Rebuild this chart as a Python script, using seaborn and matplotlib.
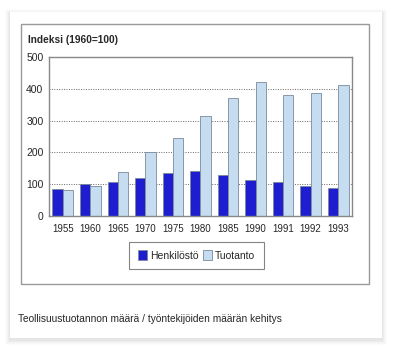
import pandas as pd
import matplotlib.pyplot as plt
import seaborn as sns
from matplotlib.patches import Rectangle
from matplotlib.ticker import MultipleLocator

years = ['1955', '1960', '1965', '1970', '1975', '1980', '1985', '1990', '1991', '1992', '1993']
henkilosto = [85, 100, 106, 120, 136, 141, 130, 112, 106, 94, 88]
tuotanto = [81, 95, 138, 200, 244, 315, 370, 420, 380, 386, 411]

df = pd.DataFrame({
    'Vuosi': years * 2,
    'Indeksi': henkilosto + tuotanto,
    'Sarja': ['Henkilöstö'] * len(years) + ['Tuotanto'] * len(years),
})

sns.set_style('white')
plt.rcParams['font.family'] = ['Liberation Sans', 'DejaVu Sans']

fig = plt.figure(figsize=(4, 3.54), dpi=100)
W, H = 400, 354

# card with a soft shadow, and the chart frame inside it
for o, a in [(5, 0.012), (4, 0.015), (3, 0.02), (2, 0.025), (1, 0.03)]:
    fig.patches.append(Rectangle(((10 - o) / W, 1 - (339 + o + 1) / H), (372 + 2 * o) / W, (326 + 2 * o) / H,
                                 transform=fig.transFigure, facecolor='black', alpha=a, edgecolor='none', zorder=0))
fig.patches.append(Rectangle((10 / W, 1 - 338 / H), 372 / W, 326 / H, transform=fig.transFigure,
                             facecolor='white', edgecolor='none', zorder=1))
fig.patches.append(Rectangle((21 / W, 1 - 284 / H), 348 / W, 260 / H, transform=fig.transFigure,
                             facecolor='white', edgecolor='#999999', linewidth=1, zorder=2))

ax = fig.add_axes([49 / W, 1 - 216 / H, 303 / W, 159 / H], zorder=3)
sns.barplot(data=df, x='Vuosi', y='Indeksi', hue='Sarja', ax=ax,
            palette=['#0000EE', '#BFDDF8'], width=0.75, edgecolor='#7a8a99', linewidth=0.6)

ax.set_ylim(0, 500)
ax.set_xlim(-0.5, len(years) - 0.5)
ax.yaxis.set_major_locator(MultipleLocator(100))
ax.yaxis.set_minor_locator(MultipleLocator(50))
ax.tick_params(axis='y', which='both', direction='in', length=3, color='#888888', labelsize=7.5, pad=4)
ax.tick_params(axis='x', length=0, labelsize=7, pad=6)
ax.set_xlabel('')
ax.set_ylabel('')
for y in [100, 200, 300, 400]:
    ax.axhline(y, color='#666666', linestyle=(0, (1, 1.5)), linewidth=0.7, zorder=0)
for s in ax.spines.values():
    s.set_color('#888888')
    s.set_linewidth(1)

fig.text(28 / W, 1 - 40 / H, 'Indeksi (1960=100)', fontsize=7.3, fontweight='bold', va='center', ha='left', zorder=4)

leg = ax.legend(loc='center', bbox_to_anchor=(196.5 / W, 1 - 255.5 / H), bbox_transform=fig.transFigure,
                ncol=2, frameon=True, fancybox=False, fontsize=7.5, handlelength=0.9, handleheight=1.0,
                handletextpad=0.3, columnspacing=0.4, borderpad=0.8)
leg.get_frame().set_edgecolor('#666666')
leg.get_frame().set_linewidth(0.8)

fig.text(18 / W, 1 - 319 / H, 'Teollisuustuotannon määrä / työntekijöiden määrän kehitys',
         fontsize=7.3, va='center', ha='left', zorder=4)

fig.savefig('out.png', dpi=100)
